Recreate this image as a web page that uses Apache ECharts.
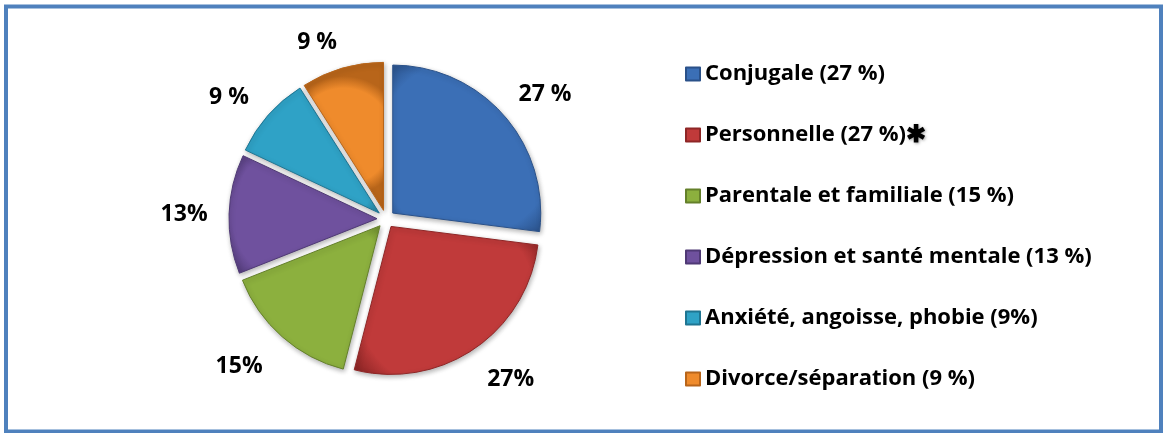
<!DOCTYPE html>
<html>
<head>
<meta charset="utf-8">
<script src="https://cdn.jsdelivr.net/npm/echarts@6/dist/echarts.min.js"></script>
<style>
  html, body { margin: 0; padding: 0; background: #fff; }
  #chart { width: 1167px; height: 433px; }
</style>
</head>
<body>
<div id="chart"></div>
<script>
// categories as shown in the legend
const categories = ['Conjugale (27 %)', 'Personnelle (27 %)', 'Parentale et familiale (15 %)',
    'Dépression et santé mentale (13 %)', 'Anxiété, angoisse, phobie (9%)', 'Divorce/séparation (9 %)'];
const values = [27, 27, 15, 13, 9, 9];
// labels around the pie, written as in the original
const sliceLabels = ['27 %', '27%', '15%', '13%', '9 %', '9 %'];
const legendMarks = ['', '\u2731', '', '', '', ''];
const colors = ['#3b6fb6', '#c03a3a', '#8cb03e', '#6f519e', '#2fa2c6', '#ef8b2c'];
const edgeColors = ['#2a5189', '#8e2626', '#64802a', '#4f3975', '#1f7592', '#b8651a'];

// small nudges so the labels sit where the original put them
const labelNudge = [[6, 10], [10, -8], [-12, -6], [2, 2], [-4, 13], [-12, 19]];

const chart = echarts.init(document.getElementById('chart'));

const pieData = categories.map((name, i) => ({
    name: name,
    value: values[i],
    selected: true,
    itemStyle: {
        color: new echarts.graphic.RadialGradient(0.5, 0.5, 0.75, [
            {offset: 0, color: colors[i]},
            {offset: 0.8, color: colors[i]},
            {offset: 1, color: edgeColors[i]}
        ]),
        borderColor: edgeColors[i],
        borderWidth: 1
    }
}));

const labelData = categories.map((name, i) => ({
    name: name,
    value: values[i],
    label: {formatter: sliceLabels[i], offset: labelNudge[i]}
}));

const option = {
    animation: false,
    color: colors,
    graphic: [{
        type: 'rect',
        shape: {x: 6, y: 6.5, width: 1155, height: 425},
        style: {fill: 'none', stroke: '#4f81bd', lineWidth: 4}
    }],
    legend: {
        orient: 'vertical',
        left: 685,
        top: 62,
        padding: 0,
        itemWidth: 14,
        itemHeight: 13,
        itemGap: 37,
        icon: 'rect',
        data: categories.map((name, i) => ({name: name, itemStyle: {color: colors[i]}})),
        formatter: function (name) {
            const i = categories.indexOf(name);
            return legendMarks[i] ? name + '{star|' + legendMarks[i] + '}' : name;
        },
        textStyle: {
            fontFamily: 'Open Sans',
            fontWeight: 'bold',
            fontSize: 22,
            lineHeight: 24,
            color: '#000',
            rich: {
                star: {fontSize: 24, fontWeight: 'bold', color: '#000', lineHeight: 24,
                       textShadowColor: 'rgba(0,0,0,0.35)', textShadowBlur: 3, textShadowOffsetX: 1, textShadowOffsetY: 1}
            }
        }
    },
    series: [{
        type: 'pie',
        center: [386, 219],
        radius: 148,
        startAngle: 90,
        selectedMode: 'multiple',
        selectedOffset: 9,
        label: {show: false},
        labelLine: {show: false},
        emphasis: {disabled: true},
        itemStyle: {shadowBlur: 5, shadowColor: 'rgba(0,0,0,0.3)', shadowOffsetX: 1, shadowOffsetY: 2},
        data: pieData
    }, {
        type: 'pie',
        center: [386, 219],
        radius: [190, 212],
        startAngle: 90,
        silent: true,
        legendHoverLink: false,
        itemStyle: {color: 'rgba(0,0,0,0)'},
        label: {
            show: true,
            position: 'inside',
            fontFamily: 'Open Sans',
            fontWeight: 'bold',
            fontSize: 23,
            color: '#000'
        },
        labelLine: {show: false},
        emphasis: {disabled: true},
        data: labelData
    }]
};

chart.setOption(option);
</script>
</body>
</html>
